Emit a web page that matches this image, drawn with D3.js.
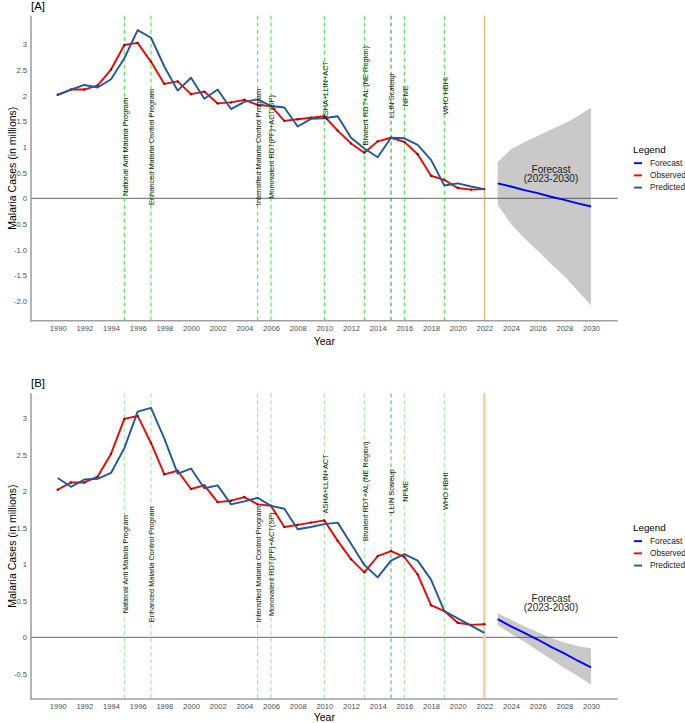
<!DOCTYPE html>
<html><head><meta charset="utf-8">
<script src="https://cdn.jsdelivr.net/npm/d3@7"></script>
<style>body{margin:0;background:#fff}svg{display:block;font-family:"Liberation Sans",Arial,sans-serif}</style>
</head><body><div id="chart"></div>
<script>
// ---------- data ----------
const years = [1990,1991,1992,1993,1994,1995,1996,1997,1998,1999,2000,2001,2002,2003,2004,2005,2006,2007,2008,2009,2010,2011,2012,2013,2014,2015,2016,2017,2018,2019,2020,2021,2022];
const observed = [2.02,2.12,2.12,2.20,2.51,2.99,3.03,2.66,2.23,2.28,2.03,2.08,1.85,1.87,1.92,1.82,1.80,1.51,1.54,1.57,1.60,1.32,1.07,0.89,1.11,1.18,1.10,0.86,0.44,0.36,0.20,0.17,0.18];
const predictedA = [2.01,2.12,2.21,2.16,2.32,2.73,3.28,3.13,2.57,2.10,2.35,1.94,2.12,1.74,1.88,1.93,1.80,1.77,1.40,1.55,1.56,1.60,1.18,0.97,0.80,1.18,1.17,1.04,0.75,0.25,0.29,0.23,0.18];
const predictedB = [2.18,2.06,2.16,2.17,2.25,2.59,3.09,3.14,2.72,2.24,2.31,2.04,2.08,1.82,1.86,1.91,1.80,1.76,1.48,1.51,1.55,1.57,1.28,0.99,0.82,1.05,1.14,1.05,0.79,0.36,0.26,0.16,0.06];
const forecastYears = [2023,2024,2025,2026,2027,2028,2029,2030];
const forecastA = [0.29,0.23,0.16,0.10,0.03,-0.03,-0.10,-0.16];
const upperA = [0.71,0.955,1.10,1.22,1.34,1.46,1.60,1.77];
const lowerA = [-0.13,-0.50,-0.78,-1.02,-1.28,-1.52,-1.80,-2.09];
const forecastB = [0.25,0.15,0.06,-0.03,-0.13,-0.22,-0.32,-0.41];
const upperB = [0.33,0.24,0.15,0.07,-0.01,-0.07,-0.12,-0.15];
const lowerB = [0.17,0.05,-0.06,-0.18,-0.30,-0.42,-0.53,-0.65];
const interventionYears = [1995,1997,2005,2006,2010,2013,2015,2016,2019];
const interventionLabels = ["National Anti Malaria Program","Enhanced Malaria Control Program","Intensified Malaria Control Program","Monovalent RDT(PF)+ACT(SP)","ASHA+LLIN+ACT","Bivalent RDT+AL (NE Region)","LLIN Scaleup","NFME","WHO HBHI"];
const interventionLabelY = [1,1,1,1,2.1,2,2,2,2];
const cutoffYear = 2022;
const xTicks = [1990,1992,1994,1996,1998,2000,2002,2004,2006,2008,2010,2012,2014,2016,2018,2020,2022,2024,2026,2028,2030];
const yTicksA = [3,2.5,2,1.5,1,0.5,0,-0.5,-1,-1.5,-2];
const yTickLabelsA = ["3","2.5","2","1.5","1","0.5","0","-0.5","-1.0","-1.5","-2.0"];
const yTicksB = [3,2.5,2,1.5,1,0.5,0,-0.5];
const yTickLabelsB = ["3","2.5","2","1.5","1","0.5","0","-0.5"];
const legendNames = ["Forecast","Observed","Predicted"];
const legendColors = ["#0000ff","#ff0000","#1f5a96"];
const forecastLabel = ["Forecast","(2023-2030)"];
const forecastLabelPos = [2027,0.45];

// ---------- drawing ----------
const W = 685, H = 723;
const svg = d3.select("#chart").append("svg").attr("width", W).attr("height", H);

function drawPanel(cfg) {
  const g = svg.append("g");
  const x = d3.scaleLinear().domain([1988, 2032]).range([cfg.left, cfg.right]);
  const y = d3.scaleLinear().domain([cfg.yMin, cfg.yMax]).range([cfg.bottom, cfg.top]);

  // ribbon
  const ribbon = forecastYears.map((yr,i)=>({yr, lo: cfg.lower[i], hi: cfg.upper[i]}));
  g.append("path").datum(ribbon)
    .attr("d", d3.area().x(d=>x(d.yr)).y0(d=>y(d.lo)).y1(d=>y(d.hi)))
    .attr("fill", "#c9c9c9");

  // zero line
  g.append("line").attr("x1", cfg.left).attr("x2", cfg.right)
    .attr("y1", y(0)).attr("y2", y(0)).attr("stroke", "#555").attr("stroke-width", 0.9);

  // intervention lines
  interventionYears.forEach((yr,i)=>{
    g.append("line").attr("x1", x(yr)).attr("x2", x(yr)).attr("y1", cfg.top).attr("y2", cfg.bottom)
      .attr("stroke", yr===2015 ? cfg.green2 : cfg.green).attr("stroke-width", 1)
      .attr("stroke-dasharray", "4,3");
  });
  // cutoff line
  g.append("line").attr("x1", x(cutoffYear)).attr("x2", x(cutoffYear)).attr("y1", cfg.top).attr("y2", cfg.bottom)
    .attr("stroke", cfg.orange).attr("stroke-width", cfg.orangeW);

  // series
  const obs = years.map((yr,i)=>({yr, v: observed[i]}));
  const pred = years.map((yr,i)=>({yr, v: cfg.predicted[i]}));
  const fc = forecastYears.map((yr,i)=>({yr, v: cfg.forecast[i]}));
  const line = d3.line().x(d=>x(d.yr)).y(d=>y(d.v));
  g.append("path").datum(obs).attr("d", line).attr("fill","none").attr("stroke","#ff0000").attr("stroke-width",1.9).attr("stroke-linejoin","round");
  g.selectAll(null).data(obs).enter().append("circle").attr("cx",d=>x(d.yr)).attr("cy",d=>y(d.v)).attr("r",1.2).attr("fill","#6b1a1a");
  g.append("path").datum(pred).attr("d", line).attr("fill","none").attr("stroke","#1f5a96").attr("stroke-width",1.9).attr("stroke-linejoin","round");
  g.append("path").datum(fc).attr("d", line).attr("fill","none").attr("stroke","#0000ff").attr("stroke-width",1.9);

  // intervention labels
  interventionYears.forEach((yr,i)=>{
    g.append("text").attr("transform", `translate(${x(yr)+0.6},${y(interventionLabelY[i])}) rotate(-90)`)
      .attr("text-anchor","middle").attr("dy","0.35em").attr("font-size", 7.4).attr("fill","#1a1a1a")
      .text(interventionLabels[i]);
  });

  // forecast annotation
  const fa = g.append("text").attr("x", x(forecastLabelPos[0])).attr("y", y(forecastLabelPos[1]))
    .attr("text-anchor","middle").attr("font-size",10).attr("fill","#1a1a1a");
  fa.append("tspan").attr("x", x(forecastLabelPos[0])).attr("dy","-0.25em").text(forecastLabel[0]);
  fa.append("tspan").attr("x", x(forecastLabelPos[0])).attr("dy","0.95em").text(forecastLabel[1]);

  // axes
  const ya = g.append("g").attr("transform", `translate(${cfg.left},0)`)
    .call(d3.axisLeft(y).tickValues(cfg.yTicks).tickFormat((d,i)=>cfg.yTickLabels[i]).tickSize(0).tickSizeOuter(0).tickPadding(4));
  const xa = g.append("g").attr("transform", `translate(0,${cfg.bottom})`)
    .call(d3.axisBottom(x).tickValues(xTicks).tickFormat(d3.format("d")).tickSize(0).tickSizeOuter(0).tickPadding(5));
  [ya, xa].forEach(a=>{
    a.select(".domain").attr("stroke","#a0a0a0").attr("stroke-width",1.6);
    a.selectAll("text").attr("font-size",7.6).attr("fill","#4d4d4d").attr("font-family","Liberation Sans, Arial, sans-serif");
  });
  ya.select(".domain").attr("d", `M0,${cfg.top}V${cfg.bottom+0.8}`);
  xa.select(".domain").attr("d", `M${cfg.left-0.8},0H${cfg.right}`);

  // titles
  g.append("text").attr("x", (cfg.left+cfg.right)/2).attr("y", cfg.yearY).attr("text-anchor","middle")
    .attr("font-size",10.5).attr("fill","#000").text("Year");
  g.append("text").attr("transform", `translate(12,${(cfg.top+cfg.bottom)/2}) rotate(-90)`).attr("text-anchor","middle")
    .attr("dy","0.35em").attr("font-size",10.5).attr("fill","#000").text("Malaria Cases (in millions)");
  g.append("text").attr("x", 31).attr("y", cfg.tagY).attr("font-size",11.5).attr("fill","#000").text(cfg.tag);

  // legend
  const mid = (cfg.top+cfg.bottom)/2;
  const lg = g.append("g").attr("transform", `translate(633,${mid-19})`);
  lg.append("text").attr("x",0).attr("y",0).attr("dy","0.35em").attr("font-size",9.8).attr("fill","#000").text("Legend");
  legendNames.forEach((n,i)=>{
    const yy = 14 + i*12.2;
    lg.append("line").attr("x1",1).attr("x2",9).attr("y1",yy).attr("y2",yy).attr("stroke",legendColors[i]).attr("stroke-width",1.9);
    lg.append("text").attr("x",17).attr("y",yy).attr("dy","0.35em").attr("font-size",8.3).attr("fill","#1a1a1a").text(n);
  });
}

drawPanel({left:31, right:617.7, top:15.7, bottom:320.7, yMin:-2.386, yMax:3.56,
  yTicks:yTicksA, yTickLabels:yTickLabelsA, predicted:predictedA, forecast:forecastA, upper:upperA, lower:lowerA,
  tag:"[A]", tagY:10, yearY:344.5, green:"#33e633", green2:"#229922", orange:"#f4a050", orangeW:1});
drawPanel({left:31, right:617.7, top:393.3, bottom:699, yMin:-0.844, yMax:3.34,
  yTicks:yTicksB, yTickLabels:yTickLabelsB, predicted:predictedB, forecast:forecastB, upper:upperB, lower:lowerB,
  tag:"[B]", tagY:387, yearY:721, green:"#8de88d", green2:"#44bb44", orange:"#f8cfa6", orangeW:2.6});
</script></body></html>
